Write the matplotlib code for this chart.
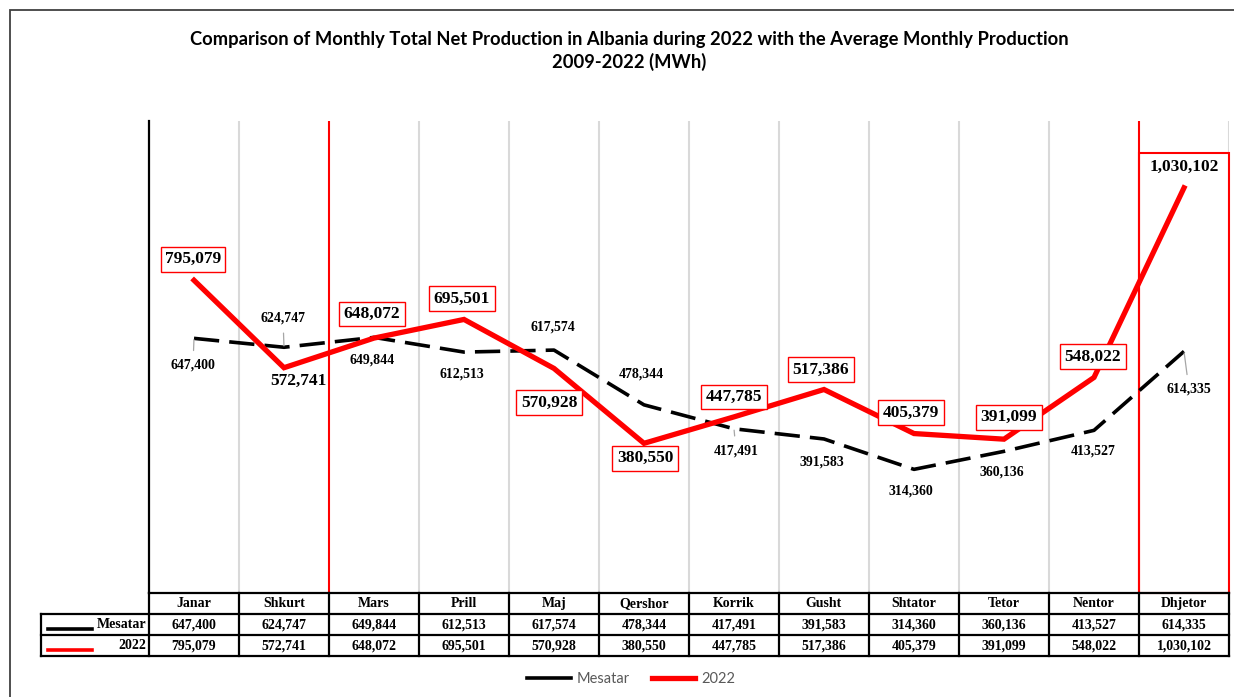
import matplotlib.pyplot as plt
from matplotlib.lines import Line2D
from matplotlib.patches import Rectangle

months = ['Janar', 'Shkurt', 'Mars', 'Prill', 'Maj', 'Qershor', 'Korrik',
          'Gusht', 'Shtator', 'Tetor', 'Nentor', 'Dhjetor']
mesatar = [647400, 624747, 649844, 612513, 617574, 478344, 417491,
           391583, 314360, 360136, 413527, 614335]
prod_2022 = [795079, 572741, 648072, 695501, 570928, 380550, 447785,
             517386, 405379, 391099, 548022, 1030102]

title = ('Comparison of Monthly Total Net Production in Albania during 2022 '
         'with the Average Monthly Production\n2009-2022 (MWh)')

W, H = 1234, 697
fig = plt.figure(figsize=(W / 100, H / 100), dpi=100)

# outer frame (cut off on the right and bottom like the screenshot)
fig.patches.append(Rectangle((10 / W, -0.1), 1.3, 1 - 10 / H + 0.1,
                             transform=fig.transFigure, fill=False,
                             edgecolor='#404040', lw=1.3))

fig.text(629 / W, 1 - 51 / H, title, ha='center', va='center',
         fontsize=13.2, fontweight='bold', family='Lato', linespacing=1.3)

# main plot area
ax = fig.add_axes([149 / W, 1 - 593 / H, 1080 / W, 472 / H])
x = list(range(len(months)))
ax.set_xlim(-0.5, 11.5)
ax.set_ylim(0, 1200000)
for s in ['top', 'right', 'bottom']:
    ax.spines[s].set_visible(False)
ax.spines['left'].set_linewidth(1.6)
ax.set_xticks([])
ax.set_yticks([])

red_sep = [1.5, 10.5]
for k in range(len(months)):
    b = k + 0.5
    ax.axvline(b, color='red' if b in red_sep else '#d9d9d9',
               lw=1.5, zorder=1)
# December highlight box
ax.add_patch(Rectangle((10.5, 0), 1.0, 0.932, transform=ax.get_xaxis_transform(),
                       fill=False, edgecolor='red', lw=1.5, zorder=2, clip_on=False))

ax.plot(x, mesatar, color='black', lw=2.6, dashes=(7, 2.8), zorder=3)
ax.plot(x, prod_2022, color='red', lw=3.8, zorder=4, solid_joinstyle='miter')

# label offsets in pixels
red_off = [(-1, 21), (14, -13), (-2, 24), (-2, 21), (-5, -34), (1, -15),
           (0, 20), (-3, 20), (-3, 21), (5, 22), (-1, 21), (0, 21)]
red_box = [True, False, True, True, True, True, True, True, True, True, True, False]
blk_off = [(-1, -27), (-1, 29), (-2, -23), (-2, -22), (-1, 23), (-3, 31),
           (2, -22), (-2, -23), (-3, -22), (-2, -21), (-1, -21), (5, -38)]
blk_leader = [True, True, False, False, False, False, True,
              False, False, False, False, True]

for i, v in enumerate(prod_2022):
    bb = dict(boxstyle='square,pad=0.25', fc='white', ec='red', lw=1) if red_box[i] else None
    ax.annotate(f'{v:,}', (i, v), xytext=red_off[i], textcoords='offset pixels',
                ha='center', va='center', fontsize=12.5, fontweight='bold',
                family='Liberation Serif', color='black', bbox=bb, zorder=6)
for i, v in enumerate(mesatar):
    ap = dict(arrowstyle='-', color='#a6a6a6', lw=0.9, shrinkA=4, shrinkB=1) if blk_leader[i] else None
    ax.annotate(f'{v:,}', (i, v), xytext=blk_off[i], textcoords='offset pixels',
                ha='center', va='center', fontsize=10, fontweight='bold',
                family='Liberation Serif', color='black', arrowprops=ap, zorder=5)

# data table below
tx0 = -0.5 - 108 / 90
tab = fig.add_axes([41 / W, 1 - 656 / H, 1188 / W, 63 / H])
tab.set_xlim(tx0, 11.5)
tab.set_ylim(3, 0)
tab.axis('off')
tkw = dict(color='black', lw=1.6, solid_capstyle='projecting', clip_on=False)
tab.plot([-0.5, 11.5], [0, 0], **tkw)
for r in [1, 2, 3]:
    tab.plot([tx0, 11.5], [r, r], **tkw)
tab.plot([tx0, tx0], [1, 3], **tkw)
for k in range(len(months) + 1):
    tab.plot([k - 0.5, k - 0.5], [0, 3], **tkw)

cell_font = dict(fontsize=10, fontweight='bold', family='Liberation Serif',
                 ha='center', va='center')
for i, m in enumerate(months):
    tab.text(i, 0.52, m, **cell_font)
    tab.text(i, 1.52, f'{mesatar[i]:,}', **cell_font)
    tab.text(i, 2.52, f'{prod_2022[i]:,}', **cell_font)

for r, (name, col) in enumerate([('Mesatar', 'black'), ('2022', 'red')]):
    tab.plot([tx0 + 0.08, tx0 + 0.57], [r + 1.72, r + 1.72], color=col, lw=2.6)
    tab.text(-0.53, r + 1.5, name, fontsize=10, fontweight='bold',
             family='Liberation Serif', ha='right', va='center')

handles = [Line2D([], [], color='black', lw=2.6), Line2D([], [], color='red', lw=3.8)]
fig.legend(handles, ['Mesatar', '2022'], loc='center', bbox_to_anchor=(631 / W, 1 - 679 / H),
           ncol=2, frameon=False, handlelength=3.0, handletextpad=0.4, columnspacing=1.5,
           prop={'family': 'Lato', 'size': 10.5}, labelcolor='#595959')

fig.savefig('out.png', dpi=100)
